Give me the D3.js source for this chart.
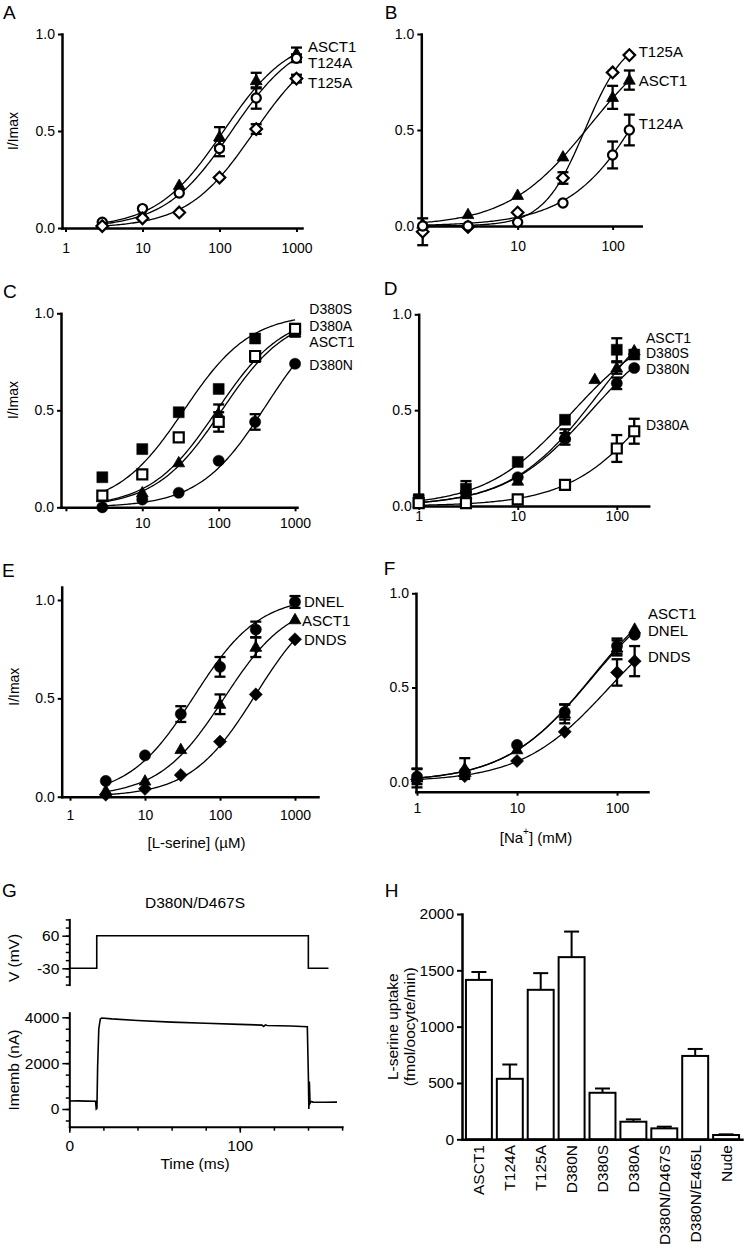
<!DOCTYPE html>
<html><head><meta charset="utf-8">
<script src="https://cdn.jsdelivr.net/npm/d3@7"></script>
<style>
body{margin:0;background:#fff;}
svg{display:block;font-family:"Liberation Sans",Arial,Helvetica,sans-serif;}
</style></head><body>
<svg id="fig" width="745" height="1249"></svg>
<script>
// ================= DATA =================
const serineConc = [3, 10, 30, 100, 300, 1000];     // µM
const sodiumConc = [1, 3, 10, 30, 100, 150];        // mM
const sodiumConcD_ASCT1 = [1, 3, 10, 30, 60, 100, 150];
const yTickVals = [0, 0.5, 1.0];

// Fit parameters: [Imax, K, Hill n]
// Panel A (L-serine)
const aASCT1 = [0.02, 0.07, 0.22, 0.47, 0.76, 0.90];
const aASCT1Err = [0, 0, 0, 0.05, 0.04, 0.03];
const aASCT1Fit = [1.0, 113, 1];
const aT124A = [0.03, 0.10, 0.18, 0.41, 0.67, 0.875];
const aT124AErr = [0, 0, 0, 0.04, 0.055, 0.02];
const aT124AFit = [1.0, 144, 1];
const aT125A = [0.01, 0.05, 0.08, 0.26, 0.51, 0.77];
const aT125AErr = [0, 0, 0, 0, 0.025, 0.02];
const aT125AFit = [0.986, 280, 1];

// Panel B (Na+)
const bASCT1 = [0.01, 0.06, 0.16, 0.36, 0.67, 0.76];
const bASCT1Err = [0, 0, 0, 0, 0.06, 0.05];
const bASCT1Fit = [1.05, 57.7, 1];
const bT124A = [0.0, 0.0, 0.02, 0.12, 0.37, 0.50];
const bT124AErr = [0, 0, 0, 0, 0.07, 0.08];
const bT124AFit = [1.68, 354, 1];
const bT125A = [-0.03, -0.005, 0.07, 0.25, 0.80, 0.89];
const bT125AErr = [0.07, 0, 0, 0.03, 0, 0];
const bT125AFit = [1.0, 51, 2.0];

// Panel C (L-serine)
const cD380S = [0.155, 0.30, 0.49, 0.61, 0.87, 0.92];
const cD380SErr = [0, 0, 0, 0, 0, 0];
const cD380SFit = [1.0, 35, 1];
const cD380A = [0.06, 0.17, 0.36, 0.44, 0.78, 0.92];
const cD380AErr = [0, 0, 0, 0.05, 0.02, 0.02];
const cD380AFit = [1.0, 95, 1];
const cASCT1 = [0.05, 0.075, 0.23, 0.48, 0.77, 0.90];
const cASCT1Err = [0, 0, 0, 0.05, 0.02, 0.02];
const cASCT1Fit = [1.0, 110, 1];
const cD380N = [0.0, 0.04, 0.075, 0.24, 0.44, 0.74];
const cD380NErr = [0, 0, 0, 0, 0.04, 0];
const cD380NFit = [1.045, 413, 1];

// Panel D (Na+)
const dASCT1 = [0.015, 0.06, 0.13, 0.37, 0.66, 0.72, 0.81];
const dASCT1Err = [0, 0, 0, 0.03, 0, 0.03, 0];
const dASCT1Fit = [1.153, 63.5, 1];
const dD380S = [0.03, 0.09, 0.23, 0.45, 0.815, 0.79];
const dD380SErr = [0.03, 0.04, 0, 0, 0.06, 0];
const dD380SFit = [0.97, 34.9, 1];
const dD380N = [0.02, 0.07, 0.15, 0.35, 0.64, 0.72];
const dD380NErr = [0, 0, 0, 0.03, 0.03, 0];
const dD380NFit = [1.0, 55.8, 1];
const dD380A = [0.015, 0.015, 0.035, 0.11, 0.30, 0.39];
const dD380AErr = [0, 0, 0, 0, 0.07, 0.065];
const dD380AFit = [1.07, 263, 1];

// Panel E (L-serine)
const eDNEL = [0.08, 0.21, 0.42, 0.66, 0.85, 0.99];
const eDNELErr = [0, 0, 0.04, 0.05, 0.04, 0.03];
const eDNELFit = [1.02, 45, 1];
const eASCT1 = [0.03, 0.08, 0.24, 0.47, 0.76, 0.90];
const eASCT1Err = [0, 0, 0, 0.05, 0.05, 0];
const eASCT1Fit = [1.0, 113, 1];
const eDNDS = [0.01, 0.04, 0.11, 0.28, 0.52, 0.80];
const eDNDSErr = [0, 0, 0, 0, 0, 0];
const eDNDSFit = [1.04, 300, 1];

// Panel F (Na+)
const fASCT1 = [0.02, 0.07, 0.17, 0.36, 0.71, 0.81];
const fASCT1Err = [0.05, 0.055, 0, 0.05, 0.04, 0];
const fASCT1Fit = [1.12, 57, 1];
const fDNEL = [0.027, 0.05, 0.195, 0.37, 0.72, 0.78];
const fDNELErr = [0.04, 0, 0, 0.04, 0.04, 0];
const fDNELFit = [1.09, 55, 1];
const fDNDS = [0.012, 0.03, 0.11, 0.265, 0.58, 0.64];
const fDNDSErr = [0, 0, 0, 0, 0.07, 0.08];
const fDNDSFit = [0.99, 82, 1];

// Panel G (D380N/D467S trace)
const gVoltTime = [0, 16.1, 16.1, 140.2, 140.2, 152];
const gVolt = [-30, -30, 60, 60, -30, -30];
const gCurTime = [0, 5, 10, 15.4, 15.8, 16.2, 16.6, 17.3, 18.2, 19, 25, 40, 60, 80, 100, 113, 114, 115, 116, 130, 139.6, 140.2, 140.5, 140.8, 141.2, 141.8, 143, 150, 157];
const gCur = [350, 355, 345, 340, 0, 30, 1800, 3500, 3930, 3970, 3930, 3860, 3790, 3740, 3690, 3660, 3600, 3670, 3640, 3620, 3590, 1500, 0, 1200, 250, 330, 300, 295, 300];
const gVTicks = [-75, -52.5, -30, -7.5, 15, 37.5, 60, 82.5, 105];
const gVLabels = [60, -30];
const gITicks = [-500, 0, 500, 1000, 1500, 2000, 2500, 3000, 3500, 4000];
const gILabels = [0, 2000, 4000];
const gTTicks = [0, 20, 40, 60, 80, 100, 120, 140, 160];
const gTLabels = [0, 100];

// Panel H (uptake)
const hMutants = ["ASCT1", "T124A", "T125A", "D380N", "D380S", "D380A", "D380N/D467S", "D380N/E465L", "Nude"];
const hUptake = [1415, 537, 1327, 1617, 413, 156, 97, 740, 38];
const hUptakeErr = [70, 127, 148, 227, 38, 21, 15, 62, 6];
const hTicks = [0, 500, 1000, 1500, 2000];

// ================= DRAWING =================
const FONT = '"Liberation Sans", Arial, Helvetica, sans-serif';
const svg = d3.select("#fig");
const plain = d => String(d);

const MARK = {
  triangle: {d: "M0,-6.3L5.9,4.1L-5.9,4.1Z", fill: "#000", sw: 0.8},
  circleOpen: {d: circ(4.6), fill: "#fff", sw: 2.2},
  circleFilled: {d: circ(5.6), fill: "#000", sw: 0.5},
  diamondOpen: {d: "M0,-5.8L5.8,0L0,5.8L-5.8,0Z", fill: "#fff", sw: 2.2},
  diamondFilled: {d: "M0,-6.6L6.6,0L0,6.6L-6.6,0Z", fill: "#000", sw: 0.5},
  squareOpen: {d: "M-5,-5H5V5H-5Z", fill: "#fff", sw: 2.2},
  squareFilled: {d: "M-5.5,-5.5H5.5V5.5H-5.5Z", fill: "#000", sw: 0.5}
};
function circ(r) { return `M${r},0A${r},${r} 0 1 1 ${-r},0A${r},${r} 0 1 1 ${r},0Z`; }

function hill(fit, c) { const [imax, k, n] = fit; return imax * Math.pow(c, n) / (Math.pow(k, n) + Math.pow(c, n)); }

function styleAxis(a, fs) {
  a.attr("font-size", fs).attr("font-family", FONT);
  a.select(".domain").attr("stroke-width", 2.5).attr("stroke-linecap", "square");
  a.selectAll(".tick line").attr("stroke-width", 2);
  a.selectAll(".tick text").attr("fill", "#000");
}

function logPanel(cfg) {
  const x = d3.scaleLog().domain(cfg.xDomain).range(cfg.xRange);
  const y = d3.scaleLinear().domain(cfg.yDomain).range(cfg.yRange);
  const g = svg.append("g");
  const xa = g.append("g").attr("transform", `translate(0,${cfg.yRange[0]})`)
    .call(d3.axisBottom(x).tickValues(cfg.xTicks)
      .tickFormat(d => cfg.xTickLabels.includes(d) ? String(d) : "")
      .tickSize(4).tickSizeOuter(0).tickPadding(cfg.xPad));
  const ya = g.append("g").attr("transform", `translate(${cfg.xRange[0]},0)`)
    .call(d3.axisLeft(y).tickValues(yTickVals).tickFormat(d3.format(".1f"))
      .tickSize(4).tickSizeOuter(0).tickPadding(3));
  styleAxis(xa, 14); styleAxis(ya, 14);

  const line = d3.line().x(d => x(d[0])).y(d => y(d[1]));
  cfg.series.forEach(s => {
    const lo = Math.log10(d3.min(s.x)), hi = Math.log10(d3.max(s.x));
    const pts = d3.range(0, 121).map(i => { const c = Math.pow(10, lo + (hi - lo) * i / 120); return [c, hill(s.fit, c)]; });
    g.append("path").attr("d", line(pts)).attr("fill", "none").attr("stroke", "#000").attr("stroke-width", 1.3);
  });
  cfg.series.forEach(s => {
    s.y.forEach((v, i) => {
      const e = s.err[i]; if (!e) return;
      const cx = x(s.x[i]);
      const eg = g.append("g").attr("stroke", "#000").attr("stroke-width", 2.3);
      eg.append("line").attr("x1", cx).attr("x2", cx).attr("y1", y(v - e)).attr("y2", y(v + e));
      [v - e, v + e].forEach(w => eg.append("line").attr("x1", cx - 5.5).attr("x2", cx + 5.5).attr("y1", y(w)).attr("y2", y(w)));
    });
  });
  cfg.series.forEach(s => {
    const m = MARK[s.marker];
    s.y.forEach((v, i) => {
      g.append("path").attr("d", m.d).attr("transform", `translate(${x(s.x[i])},${y(v)})`)
        .attr("fill", m.fill).attr("stroke", "#000").attr("stroke-width", m.sw).attr("stroke-linejoin", "miter");
    });
  });
  const lfs = cfg.legendSize || 15;
  cfg.legend.forEach(l => g.append("text").attr("x", l[1]).attr("y", l[2]).attr("dominant-baseline", "central")
    .attr("font-size", lfs).text(l[0]));
  g.append("text").attr("x", cfg.letter[1]).attr("y", cfg.letter[2]).attr("font-size", 19).text(cfg.letter[0]);
  if (cfg.yTitle) {
    g.append("text").attr("transform", `translate(${cfg.yTitle[0]},${cfg.yTitle[1]}) rotate(-90)`)
      .attr("text-anchor", "middle").attr("dominant-baseline", "central").attr("font-size", 14).text("I/Imax");
  }
}

logPanel({
  xDomain: [0.9, 1180], xRange: [62, 302], yDomain: [0, 1], yRange: [228, 34],
  xTicks: [1, 10, 100, 1000], xTickLabels: [1, 10, 100, 1000], xPad: 11,
  series: [
    {x: serineConc, y: aASCT1, err: aASCT1Err, fit: aASCT1Fit, marker: "triangle"},
    {x: serineConc, y: aT124A, err: aT124AErr, fit: aT124AFit, marker: "circleOpen"},
    {x: serineConc, y: aT125A, err: aT125AErr, fit: aT125AFit, marker: "diamondOpen"}
  ],
  legend: [["ASCT1", 308, 46], ["T124A", 308, 62], ["T125A", 308, 82]],
  letter: ["A", 3, 18.5], yTitle: [13, 131]
});
logPanel({
  xDomain: [0.967, 200], xRange: [421.3, 641.2], yDomain: [0, 1], yRange: [226, 34],
  xTicks: [1, 10, 100], xTickLabels: [10, 100], xPad: 11,
  series: [
    {x: sodiumConc, y: bASCT1, err: bASCT1Err, fit: bASCT1Fit, marker: "triangle"},
    {x: sodiumConc, y: bT125A, err: bT125AErr, fit: bT125AFit, marker: "diamondOpen"},
    {x: sodiumConc, y: bT124A, err: bT124AErr, fit: bT124AFit, marker: "circleOpen"}
  ],
  legend: [["T125A", 638.7, 51.7], ["ASCT1", 638.7, 80], ["T124A", 638.7, 123.3]],
  letter: ["B", 384.7, 18.5], yTitle: null
});
logPanel({
  xDomain: [0.863, 1060], xRange: [61, 297], yDomain: [0, 1], yRange: [507.3, 313.3],
  xTicks: [1, 10, 100, 1000], xTickLabels: [10, 100, 1000], xPad: 7,
  series: [
    {x: serineConc, y: cASCT1, err: cASCT1Err, fit: cASCT1Fit, marker: "triangle"},
    {x: serineConc, y: cD380S, err: cD380SErr, fit: cD380SFit, marker: "squareFilled"},
    {x: serineConc, y: cD380N, err: cD380NErr, fit: cD380NFit, marker: "circleFilled"},
    {x: serineConc, y: cD380A, err: cD380AErr, fit: cD380AFit, marker: "squareOpen"}
  ],
  legendSize: 14,
  legend: [["D380S", 309.3, 309.3], ["D380A", 309.3, 326], ["ASCT1", 309.3, 341.5], ["D380N", 309.3, 365]],
  letter: ["C", 3, 298.3], yTitle: [13, 400]
});
logPanel({
  xDomain: [1, 210], xRange: [418.7, 648.7], yDomain: [0, 1], yRange: [506, 314.3],
  xTicks: [1, 10, 100], xTickLabels: [1, 10, 100], xPad: 1,
  series: [
    {x: sodiumConcD_ASCT1, y: dASCT1, err: dASCT1Err, fit: dASCT1Fit, marker: "triangle"},
    {x: sodiumConc, y: dD380N, err: dD380NErr, fit: dD380NFit, marker: "circleFilled"},
    {x: sodiumConc, y: dD380S, err: dD380SErr, fit: dD380SFit, marker: "squareFilled"},
    {x: sodiumConc, y: dD380A, err: dD380AErr, fit: dD380AFit, marker: "squareOpen"}
  ],
  legendSize: 14,
  legend: [["ASCT1", 646, 338], ["D380S", 646, 353.3], ["D380N", 646, 368.6], ["D380A", 646, 425]],
  letter: ["D", 383.7, 295], yTitle: null
});
logPanel({
  xDomain: [0.775, 2026], xRange: [61.7, 318], yDomain: [0, 1.066], yRange: [796.7, 587],
  xTicks: [1, 10, 100, 1000], xTickLabels: [1, 10, 100, 1000], xPad: 9,
  series: [
    {x: serineConc, y: eASCT1, err: eASCT1Err, fit: eASCT1Fit, marker: "triangle"},
    {x: serineConc, y: eDNDS, err: eDNDSErr, fit: eDNDSFit, marker: "diamondFilled"},
    {x: serineConc, y: eDNEL, err: eDNELErr, fit: eDNELFit, marker: "circleFilled"}
  ],
  legend: [["DNEL", 304, 601.7], ["ASCT1", 302, 620.7], ["DNDS", 304, 639.3]],
  letter: ["E", 2, 576.7], yTitle: [14, 686.7]
});
logPanel({
  xDomain: [0.977, 204], xRange: [416, 648], yDomain: [-0.053, 1.0], yRange: [791.7, 593.3],
  xTicks: [1, 10, 100], xTickLabels: [1, 10, 100], xPad: 7.5,
  series: [
    {x: sodiumConc, y: fASCT1, err: fASCT1Err, fit: fASCT1Fit, marker: "triangle"},
    {x: sodiumConc, y: fDNDS, err: fDNDSErr, fit: fDNDSFit, marker: "diamondFilled"},
    {x: sodiumConc, y: fDNEL, err: fDNELErr, fit: fDNELFit, marker: "circleFilled"}
  ],
  legend: [["ASCT1", 648, 613.3], ["DNEL", 648, 630], ["DNDS", 648, 656]],
  letter: ["F", 383.7, 575], yTitle: null
});

svg.append("text").attr("x", 196.5).attr("y", 842).attr("text-anchor", "middle").attr("dominant-baseline", "central")
  .attr("font-size", 15).text("[L-serine] (\u00B5M)");
(function () {
  const t = svg.append("text").attr("x", 536).attr("y", 837).attr("text-anchor", "middle").attr("dominant-baseline", "central").attr("font-size", 15);
  t.append("tspan").text("[Na");
  t.append("tspan").attr("font-size", 10).attr("dy", -6).text("+");
  t.append("tspan").attr("dy", 6).text("] (mM)");
})();

// ---- Panel G ----
(function () {
  const t = d3.scaleLinear().domain([0, 160]).range([69.3, 342.1]);
  const v = d3.scaleLinear().domain([-75, 105]).range([984.6, 919.4]);
  const cur = d3.scaleLinear().domain([-750, 4200]).range([1126.2, 1012.7]);
  const g = svg.append("g");
  g.append("text").attr("x", 2).attr("y", 896.7).attr("font-size", 19).text("G");
  g.append("text").attr("x", 195).attr("y", 902).attr("text-anchor", "middle").attr("dominant-baseline", "central")
    .attr("font-size", 15.5).text("D380N/D467S");

  function leftAxis(scale, ticks, labels) {
    const minor = g.append("g").attr("transform", "translate(69.3,0)")
      .call(d3.axisLeft(scale).tickValues(ticks).tickFormat("").tickSize(3.5).tickSizeOuter(0));
    const major = g.append("g").attr("transform", "translate(69.3,0)")
      .call(d3.axisLeft(scale).tickValues(labels).tickFormat(plain).tickSize(7).tickSizeOuter(0).tickPadding(3));
    [minor, major].forEach(a => styleAxis(a, 15.5));
    major.select(".domain").remove();
    minor.select(".domain").attr("stroke-width", 2);
    minor.selectAll(".tick line").attr("stroke-width", 1.5);
    major.selectAll(".tick line").attr("stroke-width", 1.5);
  }
  leftAxis(v, gVTicks, gVLabels);
  leftAxis(cur, gITicks, gILabels);

  const bMinor = g.append("g").attr("transform", "translate(0,1126.7)")
    .call(d3.axisBottom(t).tickValues(gTTicks).tickFormat("").tickSize(4).tickSizeOuter(0));
  const bMajor = g.append("g").attr("transform", "translate(0,1126.7)")
    .call(d3.axisBottom(t).tickValues(gTLabels).tickFormat(plain).tickSize(6).tickSizeOuter(0).tickPadding(7));
  [bMinor, bMajor].forEach(a => styleAxis(a, 15.5));
  bMajor.select(".domain").remove();
  bMinor.select(".domain").attr("stroke-width", 2);
  bMinor.selectAll(".tick line").attr("stroke-width", 1.5);
  bMajor.selectAll(".tick line").attr("stroke-width", 1.5);

  const vLine = d3.line().x((d, i) => t(gVoltTime[i])).y(d => v(d));
  g.append("path").attr("d", vLine(gVolt)).attr("fill", "none").attr("stroke", "#000").attr("stroke-width", 1.6);
  const iLine = d3.line().x((d, i) => t(gCurTime[i])).y(d => cur(d));
  g.append("path").attr("d", iLine(gCur)).attr("fill", "none").attr("stroke", "#000").attr("stroke-width", 1.6);

  g.append("text").attr("transform", "translate(13.3,958) rotate(-90)").attr("text-anchor", "middle")
    .attr("dominant-baseline", "central").attr("font-size", 15.5).text("V (mV)");
  g.append("text").attr("transform", "translate(13.3,1070) rotate(-90)").attr("text-anchor", "middle")
    .attr("dominant-baseline", "central").attr("font-size", 15.5).text("Imemb (nA)");
  g.append("text").attr("x", 195).attr("y", 1163.5).attr("text-anchor", "middle").attr("dominant-baseline", "central")
    .attr("font-size", 15.5).text("Time (ms)");
})();

// ---- Panel H ----
(function () {
  const x = d3.scaleBand().domain(hMutants).range([463, 742]).paddingInner(0.16).paddingOuter(0.095);
  const y = d3.scaleLinear().domain([0, 2000]).range([1139.3, 914]);
  const g = svg.append("g");
  g.append("text").attr("x", 384.7).attr("y", 896.7).attr("font-size", 19).text("H");
  g.selectAll("rect.bar").data(hMutants).join("rect").attr("class", "bar")
    .attr("x", d => x(d)).attr("width", x.bandwidth())
    .attr("y", (d, i) => y(hUptake[i])).attr("height", (d, i) => y(0) - y(hUptake[i]))
    .attr("fill", "#fff").attr("stroke", "#000").attr("stroke-width", 2);
  hMutants.forEach((d, i) => {
    const cx = x(d) + x.bandwidth() / 2;
    const eg = g.append("g").attr("stroke", "#000").attr("stroke-width", 2);
    eg.append("line").attr("x1", cx).attr("x2", cx).attr("y1", y(hUptake[i])).attr("y2", y(hUptake[i] + hUptakeErr[i]));
    eg.append("line").attr("x1", cx - 7.5).attr("x2", cx + 7.5).attr("y1", y(hUptake[i] + hUptakeErr[i])).attr("y2", y(hUptake[i] + hUptakeErr[i]));
  });
  const ya = g.append("g").attr("transform", "translate(462,0)")
    .call(d3.axisLeft(y).tickValues(hTicks).tickFormat(plain).tickSize(5).tickSizeOuter(0).tickPadding(3));
  styleAxis(ya, 15.5);
  g.append("line").attr("x1", 462).attr("x2", 743.7).attr("y1", 1139.8).attr("y2", 1139.8)
    .attr("stroke", "#000").attr("stroke-width", 2.5);
  hMutants.forEach(d => {
    g.append("text").attr("transform", `translate(${x(d) + x.bandwidth() / 2},1145) rotate(-90)`)
      .attr("text-anchor", "end").attr("dominant-baseline", "central").attr("font-size", 15.5).text(d);
  });
  g.append("text").attr("transform", "translate(392,1026.7) rotate(-90)").attr("text-anchor", "middle")
    .attr("dominant-baseline", "central").attr("font-size", 15.5).text("L-serine uptake");
  g.append("text").attr("transform", "translate(409,1026.7) rotate(-90)").attr("text-anchor", "middle")
    .attr("dominant-baseline", "central").attr("font-size", 15.5).text("(fmol/oocyte/min)");
})();
</script>
</body></html>
